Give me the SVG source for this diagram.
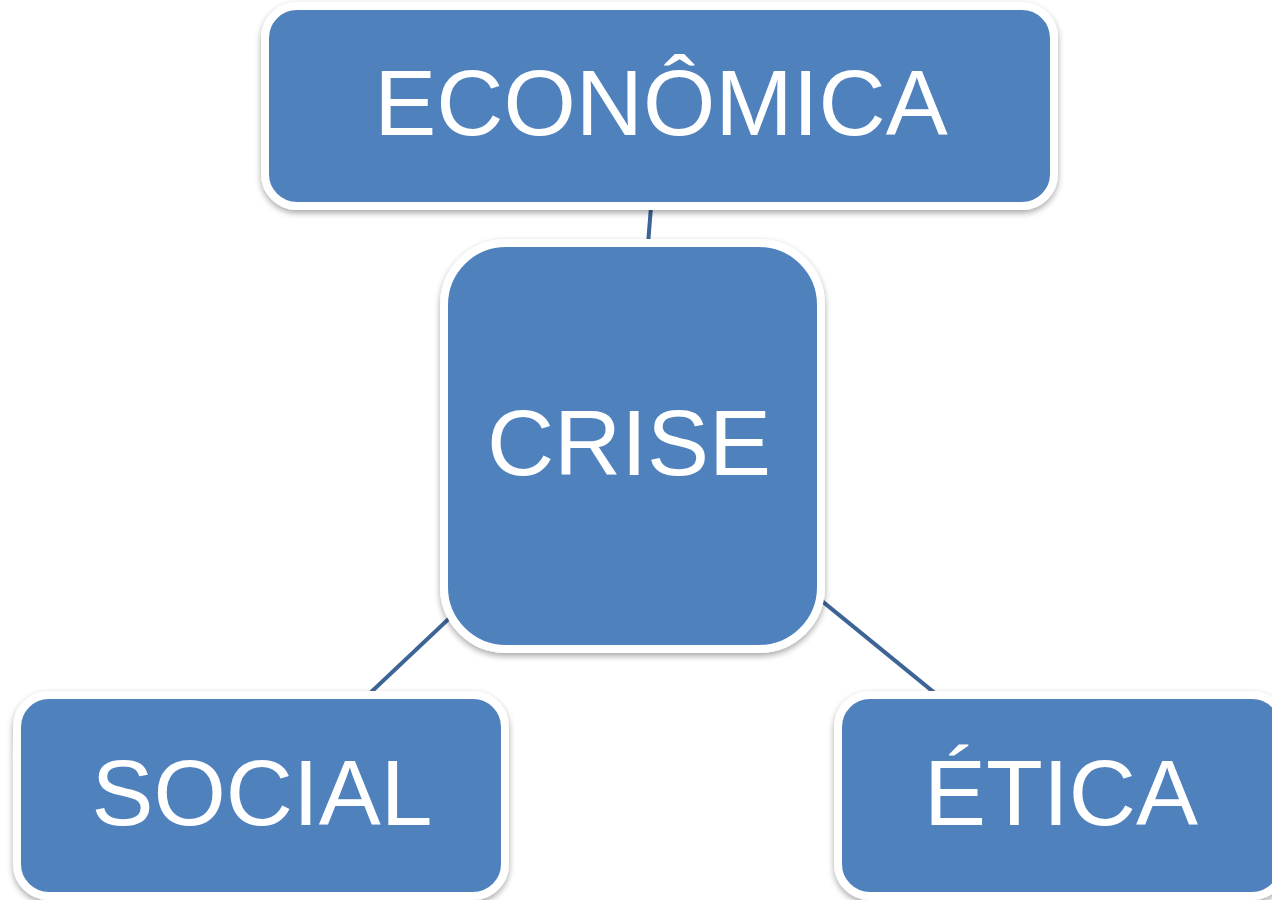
<svg xmlns="http://www.w3.org/2000/svg" width="1272" height="900" viewBox="0 0 1272 900">
  <defs>
    <filter id="sh" x="-10%" y="-10%" width="120%" height="125%">
      <feDropShadow dx="0" dy="3" stdDeviation="3" flood-color="#000" flood-opacity="0.35"/>
    </filter>
  </defs>
  <style>
    .box { fill: #4F81BD; stroke: #FFFFFF; stroke-width: 8; filter: url(#sh); }
    .lbl { fill: #FFFFFF; font-family: "Liberation Sans", Arial, sans-serif; font-size: 93px; text-anchor: middle; }
    .conn { stroke: #3C6494; stroke-width: 4; fill: none; }
  </style>
  <rect width="1272" height="900" fill="#FFFFFF"/>
  <g id="connectors">
    <line class="conn" x1="659" y1="106" x2="632" y2="446"/>
    <line class="conn" x1="632" y1="446" x2="261" y2="796"/>
    <line class="conn" x1="632" y1="446" x2="1061" y2="796"/>
  </g>
  <g id="economica">
    <rect class="box" x="265" y="6" width="789" height="200" rx="32" ry="32"/>
    <text class="lbl" x="661" y="135">ECONÔMICA</text>
  </g>
  <g id="crise">
    <rect class="box" x="444" y="243" width="377" height="406" rx="62" ry="62"/>
    <text class="lbl" x="629" y="475">CRISE</text>
  </g>
  <g id="social">
    <rect class="box" x="17" y="695" width="488" height="201" rx="32" ry="32"/>
    <text class="lbl" x="262" y="825">SOCIAL</text>
  </g>
  <g id="etica">
    <rect class="box" x="838" y="695" width="446" height="201" rx="32" ry="32"/>
    <text class="lbl" x="1061" y="825">ÉTICA</text>
  </g>
</svg>
